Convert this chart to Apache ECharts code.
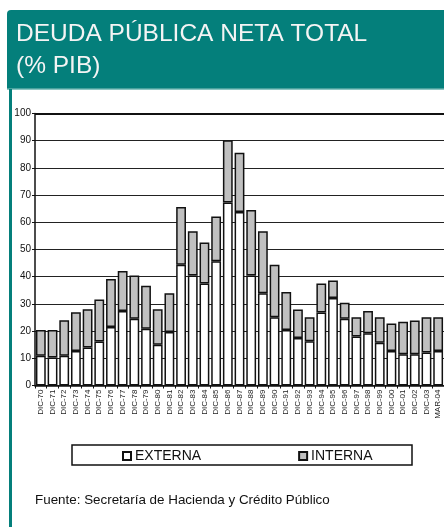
<!DOCTYPE html>
<html>
<head>
<meta charset="utf-8">
<script src="https://cdn.jsdelivr.net/npm/echarts@6/dist/echarts.min.js"></script>
<style>
  html, body { margin: 0; padding: 0; background: #fff; }
  #chart { width: 444px; height: 527px; }
</style>
</head>
<body>
<div id="chart"></div>
<script>
// datos (% del PIB)
var categories = [
  "DIC-70", "DIC-71", "DIC-72", "DIC-73", "DIC-74", "DIC-75", "DIC-76",
  "DIC-77", "DIC-78", "DIC-79", "DIC-80", "DIC-81", "DIC-82", "DIC-83",
  "DIC-84", "DIC-85", "DIC-86", "DIC-87", "DIC-88", "DIC-89", "DIC-90",
  "DIC-91", "DIC-92", "DIC-93", "DIC-94", "DIC-95", "DIC-96", "DIC-97",
  "DIC-98", "DIC-99", "DIC-00", "DIC-01", "DIC-02", "DIC-03", "MAR-04"
];
var externa = [
  10.9, 10.3, 10.9, 12.7, 14.0, 16.2, 21.5, 27.4, 24.5, 20.9, 15.0, 19.7,
  44.4, 40.4, 37.5, 45.7, 67.3, 63.8, 40.4, 33.9, 25.1, 20.4, 17.5, 16.3,
  26.8, 32.2, 24.5, 18.0, 19.2, 15.7, 12.7, 11.5, 11.5, 12.1, 12.7
];
var interna = [
  9.5, 10.1, 13.1, 14.2, 14.0, 15.4, 17.7, 14.7, 15.9, 15.8, 13.0, 14.2,
  21.2, 16.3, 15.1, 16.4, 22.9, 21.8, 24.1, 22.8, 19.3, 14.0, 10.4, 8.8,
  10.7, 6.4, 5.9, 7.1, 8.2, 9.4, 10.1, 11.9, 12.4, 13.0, 12.4
];
var yTicks = { min: 0, max: 100, interval: 10 };

var teal = "#047f7b";

var chart = echarts.init(document.getElementById("chart"));
var option = {
  animation: false,
  backgroundColor: "#fff",
  textStyle: { fontFamily: "Liberation Sans, Arial, sans-serif" },
  graphic: [
    {
      type: "rect",
      shape: { x: 7, y: 10, width: 440, height: 79, r: [4, 0, 0, 0] },
      style: { fill: teal },
      z: 0
    },
    {
      type: "rect",
      shape: { x: 7, y: 88.5, width: 440, height: 1.5 },
      style: { fill: "#8cc6c2" },
      z: 1
    },
    {
      type: "rect",
      shape: { x: 9, y: 89, width: 3, height: 440 },
      style: { fill: teal },
      z: 1
    },
    {
      type: "text",
      left: 16,
      top: 18,
      style: {
        text: "DEUDA PÚBLICA NETA TOTAL\n(% PIB)",
        fill: "#f4f4f4",
        font: "24.5px Liberation Sans, Arial, sans-serif",
        lineHeight: 32
      },
      z: 2
    },
    {
      type: "rect",
      shape: { x: 72, y: 445, width: 340, height: 20 },
      style: { fill: "#fff", stroke: "#111", lineWidth: 1.5 },
      z: 1
    },
    {
      type: "text",
      left: 35,
      top: 494,
      style: {
        text: "Fuente: Secretaría de Hacienda y Crédito Público",
        fill: "#111",
        font: "13.4px Liberation Sans, Arial, sans-serif"
      },
      z: 2
    }
  ],
  legend: {
    left: 117,
    top: 444,
    itemGap: 97,
    itemWidth: 8,
    itemHeight: 8,
    icon: "rect",
    z: 5,
    textStyle: { fontSize: 14, color: "#111", padding: [0, 0, 0, -1] },
    data: ["EXTERNA", "INTERNA"]
  },
  grid: { left: 35, top: 113.5, width: 413, bottom: 141.5 },
  xAxis: {
    type: "category",
    data: categories,
    axisLine: { lineStyle: { color: "#111", width: 1.5 } },
    axisTick: { show: true, length: 3, lineStyle: { color: "#111", width: 1 } },
    axisLabel: { rotate: 90, fontSize: 8, color: "#222", margin: 4, interval: 0 }
  },
  yAxis: {
    type: "value",
    min: yTicks.min,
    max: yTicks.max,
    interval: yTicks.interval,
    axisLine: { show: true, lineStyle: { color: "#111", width: 1.5 } },
    axisTick: { show: true, length: 3, lineStyle: { color: "#111" } },
    axisLabel: { fontSize: 10, color: "#111", margin: 4 },
    splitLine: { lineStyle: { color: "#222", width: 1 } }
  },
  series: [
    {
      name: "EXTERNA",
      type: "bar",
      stack: "deuda",
      barCategoryGap: "16%",
      data: externa,
      itemStyle: { color: "#ffffff", borderColor: "#111", borderWidth: 1.5 }
    },
    {
      name: "INTERNA",
      type: "bar",
      stack: "deuda",
      data: interna,
      itemStyle: { color: "#c0c0c0", borderColor: "#111", borderWidth: 1.5 },
      markLine: {
        silent: true,
        symbol: "none",
        label: { show: false },
        lineStyle: { color: "#111", width: 2, type: "solid" },
        data: [{ yAxis: 100 }]
      }
    }
  ]
};
chart.setOption(option);
</script>
</body>
</html>
